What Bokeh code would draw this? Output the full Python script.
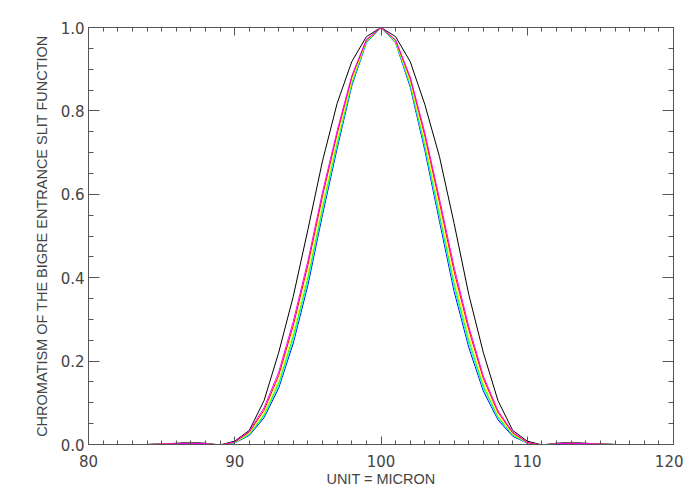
from bokeh.plotting import figure
from bokeh.models import Range1d, LinearAxis, FixedTicker, CustomJSTickFormatter
from bokeh.embed import file_html
from bokeh.resources import INLINE

# sample positions (micron)
x = list(range(80, 121))

# x:      80   81   82   83   84   85     86     87     88     89      90     91     92     93     94     95     96     97     98     99     100    101    102    103    104    105    106    107    108    109    110    111     112    113    114    115    116  117  118  119  120
black   = [0.0, 0.0, 0.0, 0.0, 0.0, 0.001, 0.003, 0.005, 0.003, -0.001, 0.008, 0.034, 0.105, 0.220, 0.355, 0.515, 0.680, 0.818, 0.918, 0.978, 1.000, 0.978, 0.918, 0.815, 0.690, 0.530, 0.360, 0.220, 0.105, 0.034, 0.008, -0.001, 0.003, 0.005, 0.003, 0.001, 0.0, 0.0, 0.0, 0.0, 0.0]
blue    = [0.0, 0.0, 0.0, 0.0, 0.0, 0.001, 0.002, 0.003, 0.002, -0.002, 0.004, 0.022, 0.064, 0.135, 0.243, 0.382, 0.551, 0.710, 0.860, 0.964, 1.000, 0.963, 0.857, 0.705, 0.535, 0.367, 0.233, 0.128, 0.059, 0.020, 0.003, -0.002, 0.002, 0.003, 0.002, 0.001, 0.0, 0.0, 0.0, 0.0, 0.0]
cyan    = [0.0, 0.0, 0.0, 0.0, 0.0, 0.001, 0.002, 0.003, 0.002, -0.002, 0.004, 0.024, 0.068, 0.141, 0.251, 0.392, 0.560, 0.717, 0.864, 0.965, 1.000, 0.964, 0.861, 0.712, 0.544, 0.377, 0.241, 0.134, 0.063, 0.022, 0.003, -0.002, 0.002, 0.003, 0.002, 0.001, 0.0, 0.0, 0.0, 0.0, 0.0]
green   = [0.0, 0.0, 0.0, 0.0, 0.0, 0.001, 0.002, 0.003, 0.002, -0.002, 0.005, 0.025, 0.071, 0.147, 0.260, 0.401, 0.569, 0.724, 0.868, 0.966, 1.000, 0.965, 0.865, 0.719, 0.553, 0.386, 0.250, 0.140, 0.066, 0.023, 0.004, -0.002, 0.002, 0.003, 0.002, 0.001, 0.0, 0.0, 0.0, 0.0, 0.0]
yellow  = [0.0, 0.0, 0.0, 0.0, 0.0, 0.001, 0.002, 0.003, 0.002, -0.002, 0.005, 0.027, 0.075, 0.153, 0.268, 0.411, 0.578, 0.731, 0.872, 0.968, 1.000, 0.967, 0.869, 0.726, 0.562, 0.396, 0.258, 0.146, 0.070, 0.025, 0.004, -0.002, 0.002, 0.003, 0.002, 0.001, 0.0, 0.0, 0.0, 0.0, 0.0]
red     = [0.0, 0.0, 0.0, 0.0, 0.0, 0.001, 0.002, 0.003, 0.002, -0.002, 0.006, 0.030, 0.082, 0.165, 0.285, 0.430, 0.596, 0.745, 0.880, 0.970, 1.000, 0.969, 0.877, 0.740, 0.580, 0.415, 0.275, 0.158, 0.077, 0.028, 0.005, -0.002, 0.002, 0.003, 0.002, 0.001, 0.0, 0.0, 0.0, 0.0, 0.0]
magenta = [0.0, 0.0, 0.0, 0.0, 0.0, 0.001, 0.002, 0.003, 0.002, -0.002, 0.006, 0.032, 0.088, 0.173, 0.295, 0.440, 0.605, 0.752, 0.884, 0.971, 1.000, 0.970, 0.881, 0.747, 0.589, 0.425, 0.283, 0.164, 0.081, 0.030, 0.005, -0.002, 0.002, 0.003, 0.002, 0.001, 0.0, 0.0, 0.0, 0.0, 0.0]

series = [
    (black, "#000000"),
    (blue, "#0000ff"),
    (cyan, "#00ffff"),
    (green, "#00ff00"),
    (yellow, "#ffff00"),
    (red, "#ff0000"),
    (magenta, "#ff00ff"),
]

x_major = [80, 90, 100, 110, 120]
x_minor = list(range(80, 121))
y_major = [0.0, 0.2, 0.4, 0.6, 0.8, 1.0]
y_minor = [i * 0.05 for i in range(21)]

x_title = "UNIT = MICRON"
y_title = "CHROMATISM OF THE BIGRE ENTRANCE SLIT FUNCTION"

TICK_FONT = "DejaVu Sans"
LABEL_FONT = "Liberation Sans"
AX = "#555555"
TXT = "#444444"

p = figure(
    frame_width=585, frame_height=417,
    min_border_left=88, min_border_right=10, min_border_top=27, min_border_bottom=46,
    x_range=Range1d(80, 120), y_range=Range1d(0, 1),
    output_backend="svg", toolbar_location=None,
)
p.background_fill_color = "white"
p.border_fill_color = "white"
p.outline_line_color = None
p.xgrid.visible = False
p.ygrid.visible = False

for ys, c in series:
    p.line(x, ys, line_color=c, line_width=1)

def style(ax, tin_major, tin_minor):
    ax.axis_line_color = AX
    ax.major_tick_line_color = AX
    ax.minor_tick_line_color = AX
    ax.major_tick_in = tin_major
    ax.major_tick_out = 0
    ax.minor_tick_in = tin_minor
    ax.minor_tick_out = 0
    ax.major_label_text_font = TICK_FONT
    ax.major_label_text_color = TXT
    ax.major_label_text_font_size = "15px"
    ax.axis_label_text_font = LABEL_FONT
    ax.axis_label_text_color = TXT
    ax.axis_label_text_font_style = "normal"
    ax.axis_label_text_font_size = "14.5px"

xax = p.xaxis[0]
xax.ticker = FixedTicker(ticks=x_major, minor_ticks=x_minor)
style(xax, 8, 4)
xax.major_label_standoff = 10
xax.axis_label = x_title
xax.axis_label_standoff = 1

yax = p.yaxis[0]
yax.ticker = FixedTicker(ticks=y_major, minor_ticks=y_minor)
yax.formatter = CustomJSTickFormatter(code="return tick.toFixed(1);")
style(yax, 11, 5)
yax.major_label_standoff = 4
yax.axis_label = y_title
yax.axis_label_standoff = 8

blank = CustomJSTickFormatter(code="return '';")

top = LinearAxis(ticker=FixedTicker(ticks=x_major, minor_ticks=x_minor), formatter=blank)
style(top, 8, 4)
top.major_label_standoff = 0
p.add_layout(top, "above")

right = LinearAxis(ticker=FixedTicker(ticks=y_major, minor_ticks=y_minor), formatter=blank)
style(right, 11, 5)
right.major_label_standoff = 0
p.add_layout(right, "right")

open("out.html", "w").write(file_html(p, INLINE))
